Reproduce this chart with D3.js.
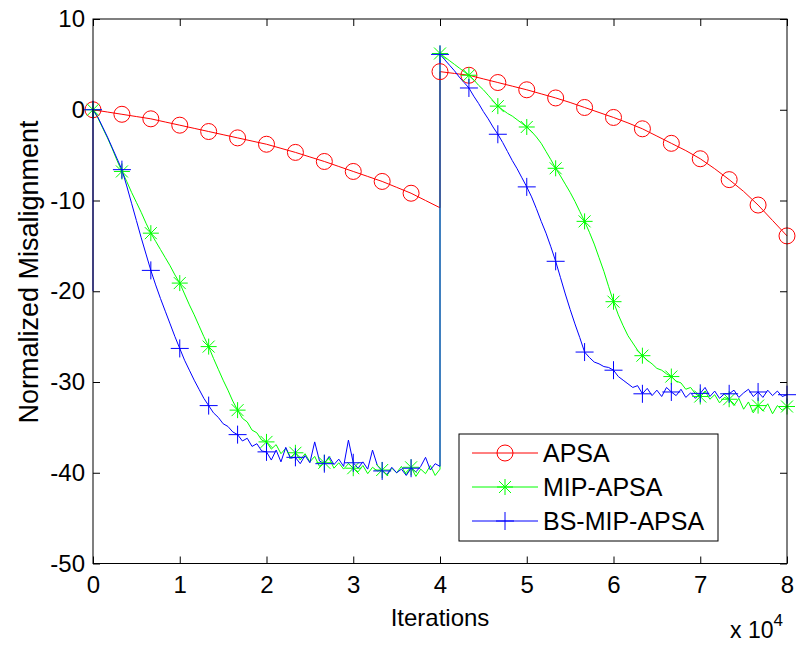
<!DOCTYPE html>
<html>
<head>
<meta charset="utf-8">
<script src="https://cdn.jsdelivr.net/npm/d3@7"></script>
<style>
  body { margin: 0; background: #fff; }
  text { font-family: "Liberation Sans", Arial, sans-serif; fill: #000; }
</style>
</head>
<body>
<div class="chart"></div>
<script>
// Values. x is in units of 1e4 iterations.
// Green and blue: one sample every 1/18, markers every 6th sample.
// Red: one sample every 1/6, markers every 2nd sample.
const xTicks = [0, 1, 2, 3, 4, 5, 6, 7, 8];
const yTicks = [-50, -40, -30, -20, -10, 0, 10];
const seriesNames = ["APSA", "MIP-APSA", "BS-MIP-APSA"];

const apsaFirst = [0, -0.25, -0.5, -0.75, -1.0, -1.35, -1.7, -2.05, -2.4, -2.75, -3.1, -3.45, -3.8,
  -4.25, -4.7, -5.2, -5.7, -6.25, -6.8, -7.35, -7.9, -8.55, -9.2, -10.0, -10.8];
const apsaSecond = [4.2, 4.0, 3.8, 3.4, 3.0, 2.6, 2.2, 1.75, 1.3, 0.8, 0.25, -0.3, -0.85,
  -1.45, -2.1, -2.9, -3.7, -4.5, -5.4, -6.5, -7.7, -9.0, -10.5, -12.2, -13.9];

const mipFirst = [0, -0.9, -2.0, -3.1, -4.3, -5.6, -6.8, -7.9, -9.1, -10.2, -11.3, -12.5, -13.6,
  -14.5, -15.4, -16.3, -17.2, -18.2, -19.1, -20.3, -21.5, -22.6, -23.8, -25.0, -26.1,
  -27.4, -28.6, -29.8, -30.9, -32.1, -33.1, -34.0, -34.4, -35.3, -35.6, -36.4, -36.6,
  -37.4, -36.9, -37.9, -37.3, -38.4, -37.8, -38.6, -37.9, -38.8, -38.2, -39.3, -38.9,
  -38.4, -39.5, -38.9, -39.6, -39.0, -39.5, -39.9, -39.2, -40.1, -39.4, -39.8, -39.7,
  -40.3, -39.5, -40.0, -39.3, -40.2, -39.4, -40.4, -39.6, -40.1, -39.2, -40.3, -39.6];
const mipSecond = [6.2, 5.8, 5.4, 5.0, 4.6, 4.2, 3.8, 3.3, 2.7, 2.2, 1.6, 1.0, 0.4,
  0.0, -0.4, -0.7, -1.1, -1.5, -1.9, -2.4, -3.0, -3.7, -4.6, -5.5, -6.45,
  -7.3, -8.2, -9.1, -10.1, -11.2, -12.3, -13.5, -14.8, -16.3, -17.8, -19.5, -21.15,
  -22.6, -23.8, -24.9, -25.7, -26.5, -27.1, -27.6, -28.0, -28.5, -28.7, -29.1, -29.4,
  -29.9, -30.1, -30.8, -30.6, -31.3, -31.6, -31.0, -31.9, -31.4, -32.3, -31.7, -31.9,
  -32.6, -31.8, -33.0, -32.2, -33.4, -32.6, -33.2, -32.4, -33.5, -32.6, -33.1, -32.7];

const bsStart = -20;
const bsFirst = [0, -0.8, -1.9, -3.0, -4.2, -5.4, -6.6, -8.4, -10.3, -12.2, -14.1, -15.9, -17.7,
  -19.3, -20.8, -22.2, -23.6, -25.0, -26.3, -27.6, -28.7, -29.8, -30.8, -31.8, -32.6,
  -33.4, -33.9, -34.6, -34.9, -35.5, -35.8, -36.5, -36.2, -37.1, -36.8, -37.6, -37.7,
  -38.6, -37.5, -38.8, -37.2, -38.4, -38.3, -39.0, -38.1, -38.9, -36.6, -38.7, -39.0,
  -38.2, -39.1, -38.5, -39.3, -36.4, -38.9, -39.5, -38.8, -39.6, -37.5, -39.2, -39.8,
  -40.2, -39.4, -40.0, -39.6, -40.3, -39.5, -39.9, -39.3, -38.3, -39.7, -39.0, -39.3];
const bsSecond = [6.1, 5.5, 4.9, 4.3, 3.6, 3.0, 2.4, 1.5, 0.7, -0.2, -1.0, -1.9, -2.7,
  -3.6, -4.6, -5.6, -6.5, -7.5, -8.5, -9.6, -10.9, -12.3, -13.6, -15.1, -16.7,
  -18.5, -20.3, -22.0, -23.6, -25.1, -26.7, -27.3, -27.8, -28.0, -28.3, -28.4, -28.7,
  -29.4, -29.8, -30.2, -30.6, -30.4, -31.3, -30.7, -31.5, -30.9, -31.6, -30.6, -31.1,
  -31.5, -30.8, -31.7, -31.2, -31.8, -31.25, -30.6, -31.6, -31.0, -31.8, -31.3, -31.3,
  -30.9, -31.7, -31.2, -30.8, -31.6, -31.1, -31.7, -30.9, -31.5, -31.0, -31.6, -31.4];

// Chart dimensions
const W = 797, H = 645;
const plot = { left: 93, right: 787, top: 19, bottom: 563.5 };

const svg = d3.select(".chart")
  .append("svg")
  .attr("width", W)
  .attr("height", H);

const xScale = d3.scaleLinear().domain([0, 8]).range([plot.left, plot.right]);
const yScale = d3.scaleLinear().domain([-50, 10]).range([plot.bottom, plot.top]);

// Turn two halves (0..4 and 4..8) into points, flag which carry a marker
function buildPoints(first, second, every, start) {
  const step = 4 / (first.length - 1);
  const pts = [];
  if (start !== undefined) pts.push({ x: 0, y: start, mark: false });
  first.forEach((v, i) => pts.push({ x: i * step, y: v, mark: i % every === 0 && i < first.length - 1 }));
  second.forEach((v, i) => pts.push({ x: 4 + i * step, y: v, mark: i % every === 0 }));
  return pts;
}

const series = [
  { name: seriesNames[0], color: "#ff0000", marker: "circle", pts: buildPoints(apsaFirst, apsaSecond, 2) },
  { name: seriesNames[1], color: "#00ff00", marker: "star", pts: buildPoints(mipFirst, mipSecond, 6) },
  { name: seriesNames[2], color: "#0000ff", marker: "plus", pts: buildPoints(bsFirst, bsSecond, 6, bsStart) }
];

const markerPath = {
  circle: "M-8,0A8,8 0 1,0 8,0A8,8 0 1,0 -8,0Z",
  star: "M-8,0H8M0,-8V8M-6,-6L6,6M-6,6L6,-6",
  plus: "M-9,0H9M0,-9V9"
};

// plain hyphen for negatives, like the original
const fmt = d => String(d);

// axes with inward ticks
const axisFont = 24;
svg.append("g")
  .attr("transform", `translate(0,${plot.bottom})`)
  .call(d3.axisBottom(xScale).tickValues(xTicks).tickSize(-7).tickPadding(12).tickFormat(fmt))
  .call(g => g.select(".domain").remove())
  .call(g => g.selectAll("text").attr("font-size", axisFont));

svg.append("g")
  .attr("transform", `translate(0,${plot.top})`)
  .call(d3.axisTop(xScale).tickValues(xTicks).tickSize(-7).tickFormat(""))
  .call(g => g.select(".domain").remove());

svg.append("g")
  .attr("transform", `translate(${plot.left},0)`)
  .call(d3.axisLeft(yScale).tickValues(yTicks).tickSize(-7).tickPadding(8).tickFormat(fmt))
  .call(g => g.select(".domain").remove())
  .call(g => g.selectAll("text").attr("font-size", axisFont));

svg.append("g")
  .attr("transform", `translate(${plot.right},0)`)
  .call(d3.axisRight(yScale).tickValues(yTicks).tickSize(-7).tickFormat(""))
  .call(g => g.select(".domain").remove());

svg.selectAll(".tick line").attr("stroke", "#000");

// lines
const line = d3.line().x(d => xScale(d.x)).y(d => yScale(d.y));

const layers = svg.append("g");
series.forEach(s => {
  layers.append("path")
    .attr("fill", "none")
    .attr("stroke", s.color)
    .attr("stroke-width", 1)
    .attr("d", line(s.pts));
});
series.forEach(s => {
  layers.selectAll(null)
    .data(s.pts.filter(p => p.mark))
    .enter()
    .append("path")
    .attr("transform", d => `translate(${xScale(d.x)},${yScale(d.y)})`)
    .attr("d", markerPath[s.marker])
    .attr("fill", "none")
    .attr("stroke", s.color)
    .attr("stroke-width", 1);
});

// frame
svg.append("rect")
  .attr("x", plot.left)
  .attr("y", plot.top)
  .attr("width", plot.right - plot.left)
  .attr("height", plot.bottom - plot.top)
  .attr("fill", "none")
  .attr("stroke", "#000")
  .attr("stroke-width", 1);

// axis labels
svg.append("text")
  .attr("x", (plot.left + plot.right) / 2)
  .attr("y", 626)
  .attr("text-anchor", "middle")
  .attr("font-size", 24)
  .text("Iterations");

svg.append("text")
  .attr("transform", `translate(38,272) rotate(-90)`)
  .attr("text-anchor", "middle")
  .attr("font-size", 27)
  .text("Normalized Misalignment");

const expo = svg.append("text")
  .attr("x", 730)
  .attr("y", 638)
  .attr("font-size", 23);
expo.append("tspan").text("x 10");
expo.append("tspan").attr("dy", -12).attr("font-size", 17).text("4");

// legend
const legend = svg.append("g");
legend.append("rect")
  .attr("x", 459).attr("y", 434)
  .attr("width", 259).attr("height", 107)
  .attr("fill", "#fff")
  .attr("stroke", "#000");

const rowY = [453, 487, 521];
series.forEach((s, i) => {
  const row = legend.append("g").attr("transform", `translate(0,${rowY[i]})`);
  row.append("line")
    .attr("x1", 472).attr("x2", 538)
    .attr("stroke", s.color);
  row.append("path")
    .attr("transform", "translate(505,0)")
    .attr("d", markerPath[s.marker])
    .attr("fill", "none")
    .attr("stroke", s.color);
  row.append("text")
    .attr("x", 543)
    .attr("y", 9)
    .attr("font-size", 25)
    .text(s.name);
});
</script>
</body>
</html>
